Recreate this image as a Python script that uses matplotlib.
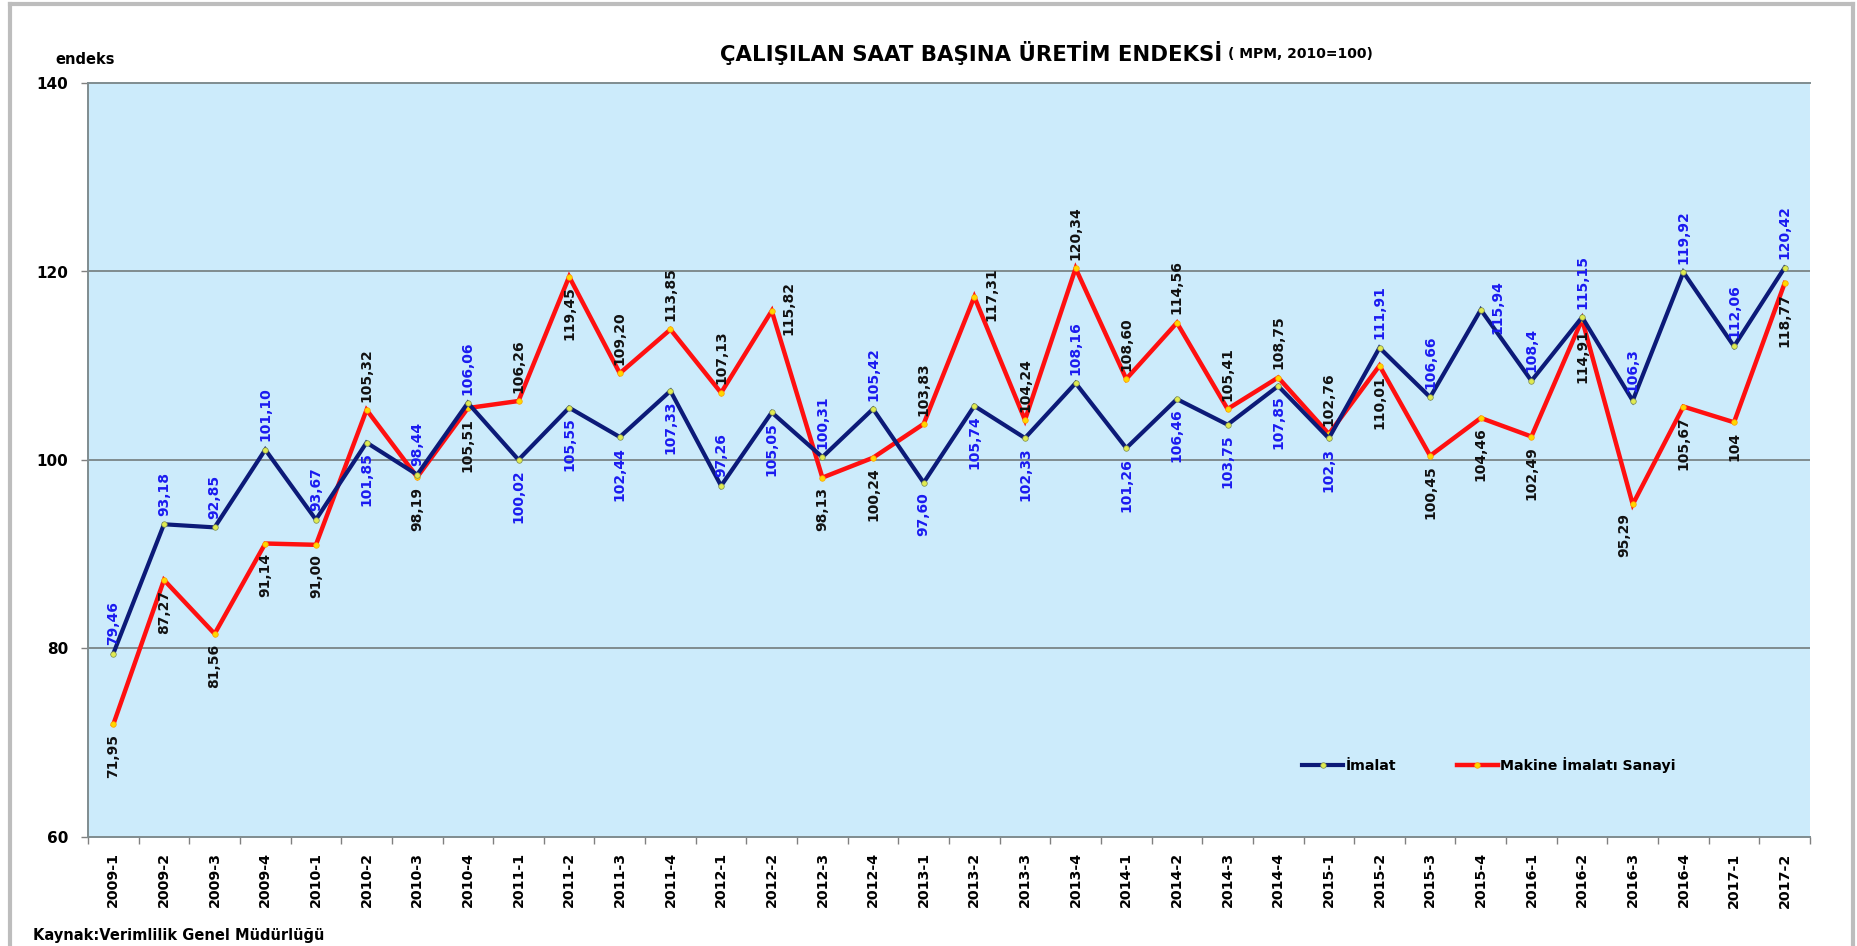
import matplotlib
matplotlib.use("Agg")
import matplotlib.pyplot as plt
from matplotlib.lines import Line2D

plt.rcParams['font.family'] = ['DejaVu Sans']

categories = ["2009-1", "2009-2", "2009-3", "2009-4", "2010-1", "2010-2", "2010-3", "2010-4",
              "2011-1", "2011-2", "2011-3", "2011-4", "2012-1", "2012-2", "2012-3", "2012-4",
              "2013-1", "2013-2", "2013-3", "2013-4", "2014-1", "2014-2", "2014-3", "2014-4",
              "2015-1", "2015-2", "2015-3", "2015-4", "2016-1", "2016-2", "2016-3", "2016-4",
              "2017-1", "2017-2"]

imalat = [79.46, 93.18, 92.85, 101.10, 93.67, 101.85, 98.44, 106.06,
          100.02, 105.55, 102.44, 107.33, 97.26, 105.05, 100.31, 105.42,
          97.60, 105.74, 102.33, 108.16, 101.26, 106.46, 103.75, 107.85,
          102.3, 111.91, 106.66, 115.94, 108.4, 115.15, 106.3, 119.92,
          112.06, 120.42]

makine = [71.95, 87.27, 81.56, 91.14, 91.00, 105.32, 98.19, 105.51,
          106.26, 119.45, 109.20, 113.85, 107.13, 115.82, 98.13, 100.24,
          103.83, 117.31, 104.24, 120.34, 108.60, 114.56, 105.41, 108.75,
          102.76, 110.01, 100.45, 104.46, 102.49, 114.91, 95.29, 105.67,
          104, 118.77]

imalat_labels = ["79,46", "93,18", "92,85", "101,10", "93,67", "101,85", "98,44", "106,06",
                 "100,02", "105,55", "102,44", "107,33", "97,26", "105,05", "100,31", "105,42",
                 "97,60", "105,74", "102,33", "108,16", "101,26", "106,46", "103,75", "107,85",
                 "102,3", "111,91", "106,66", "115,94", "108,4", "115,15", "106,3", "119,92",
                 "112,06", "120,42"]

makine_labels = ["71,95", "87,27", "81,56", "91,14", "91,00", "105,32", "98,19", "105,51",
                 "106,26", "119,45", "109,20", "113,85", "107,13", "115,82", "98,13", "100,24",
                 "103,83", "117,31", "104,24", "120,34", "108,60", "114,56", "105,41", "108,75",
                 "102,76", "110,01", "100,45", "104,46", "102,49", "114,91", "95,29", "105,67",
                 "104", "118,77"]

# label placement: a = above, b = below, r = right, bl = below-left
imalat_pos = ["a", "a", "a", "a", "a", "b", "a", "a",
              "b", "b", "b", "b", "a", "b", "a", "a",
              "b", "b", "b", "a", "b", "b", "b", "b",
              "b", "a", "a", "r", "a", "a", "a", "a",
              "a", "a"]
makine_pos = ["b", "b", "b", "b", "b", "a", "b", "b",
              "a", "b", "a", "a", "a", "r", "b", "b",
              "a", "r", "a", "a", "a", "a", "a", "a",
              "a", "b", "b", "b", "b", "b", "bl", "b",
              "b", "b"]

yticks = [60, 80, 100, 120, 140]

W, H = 1858, 946
fig = plt.figure(figsize=(W / 100, H / 100), dpi=100)
fig.patch.set_facecolor("white")

ax = fig.add_axes([88 / W, 1 - 837 / H, (1810 - 88) / W, (837 - 83) / H])
ax.set_facecolor("#CCEBFB")

x = list(range(len(categories)))
navy = "#0C1A78"
red = "#FF1010"

ax.plot(x, makine, color=red, lw=3.2, marker="o", ms=4, mfc="#FFD700", mec="#FFA000",
        mew=0.5, zorder=3, label="Makine İmalatı Sanayi", solid_joinstyle="miter")
ax.plot(x, imalat, color=navy, lw=3.0, marker="o", ms=4, mfc="#E0EA50", mec="#7A8A50",
        mew=0.5, zorder=4, label="İmalat", solid_joinstyle="miter")

ax.set_xlim(-0.5, len(categories) - 0.5)
ax.set_ylim(60, 140)
ax.set_yticks(yticks)
ax.set_yticklabels([str(v) for v in yticks], fontweight="bold", fontsize=11)
ax.set_xticks(x)
ax.set_xticklabels(categories, rotation=90, fontweight="bold", fontsize=10.3)
ax.tick_params(axis="x", length=0, pad=11)
ax.set_xticks([i - 0.5 for i in range(len(categories) + 1)], minor=True)
ax.tick_params(axis="x", which="minor", length=5, color="#808080", width=1)
ax.tick_params(axis="y", length=5, color="#808080", width=1, pad=9)

for yv in yticks[1:-1]:
    ax.axhline(yv, color="#7F8C8F", lw=1.4, zorder=1)

for s in ["left", "bottom", "top"]:
    ax.spines[s].set_color("#7F8C8F")
    ax.spines[s].set_linewidth(1.4)
ax.spines["right"].set_visible(False)


def place(vals, labels, pos, color):
    for i, (v, t, p) in enumerate(zip(vals, labels, pos)):
        if p == "a":
            off, ha, va = (0, 6), "center", "bottom"
        elif p == "b":
            off, ha, va = (0, -7), "center", "top"
        elif p == "r":
            off, ha, va = (7, 2), "left", "center"
        else:
            off, ha, va = (-6, -6), "center", "top"
        ax.annotate(t, (i, v), xytext=off, textcoords="offset points", rotation=90,
                    ha=ha, va=va, fontsize=10, fontweight="bold", color=color, zorder=5)


place(imalat, imalat_labels, imalat_pos, "#1A1AF0")
place(makine, makine_labels, makine_pos, "#111111")

handles, labs = ax.get_legend_handles_labels()
leg = fig.legend(handles[::-1], labs[::-1], loc="center left",
                 bbox_to_anchor=(1295 / W, 1 - 765 / H), ncol=2, frameon=False,
                 prop={"weight": "bold", "size": 10.2}, handlelength=2.9,
                 handletextpad=0.15, columnspacing=4.3, borderpad=0)

# titles
t1 = fig.text(720 / W, 1 - 53 / H, "ÇALIŞILAN SAAT BAŞINA ÜRETİM ENDEKSİ",
              fontsize=15.3, fontweight="bold", ha="left", va="center")
fig.canvas.draw()
bb = t1.get_window_extent(fig.canvas.get_renderer())
fig.text(bb.x1 / W + 6 / W, 1 - 54 / H, "( MPM, 2010=100)", fontsize=10,
         fontweight="bold", ha="left", va="center")

fig.text(55 / W, 1 - 60 / H, "endeks", fontsize=10.5, fontweight="bold", ha="left", va="center")
fig.text(33 / W, 1 - 935 / H, "Kaynak:Verimlilik Genel Müdürlüğü", fontsize=10.5,
         fontweight="bold", ha="left", va="center")

# outer frame
fc = "#BDBDBD"
fig.add_artist(Line2D([10 / W, 10 / W], [0, 1 - 4 / H], color=fc, lw=3, transform=fig.transFigure))
fig.add_artist(Line2D([10 / W, 1853 / W], [1 - 4 / H, 1 - 4 / H], color=fc, lw=3, transform=fig.transFigure))
fig.add_artist(Line2D([1853 / W, 1853 / W], [0, 1 - 4 / H], color=fc, lw=3, transform=fig.transFigure))

fig.savefig("out.png", dpi=100)
